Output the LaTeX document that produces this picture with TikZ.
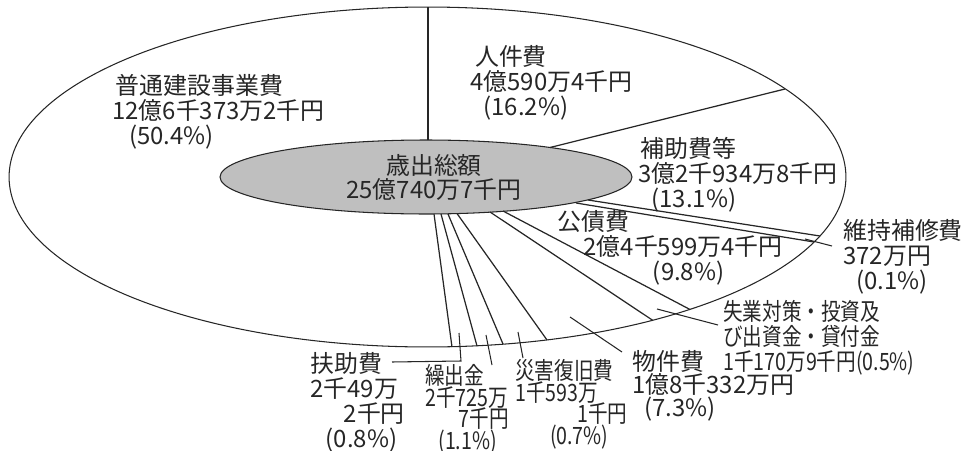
\documentclass[tikz,border=0pt]{standalone}
\usepackage{fontspec}
\setmainfont{Noto Sans CJK JP}
\newfontfamily\jpnarrow[FakeStretch=0.82]{Noto Sans CJK JP}
\newcommand\tightlines{\lineskiplimit=-20pt\relax}
\tikzstyle{lbl} = [inner sep=0pt, anchor=north west, align=left, text=black!85, font=\fontsize{13.6}{14.2}\selectfont\tightlines]
\tikzstyle{lblnarrow} = [inner sep=0pt, anchor=north west, align=left, text=black!85, font=\jpnarrow\fontsize{13.6}{12.3}\selectfont\tightlines]
\tikzstyle{seg} = [line width=0.7pt, draw=black!85]
\tikzstyle{leader} = [line width=0.6pt, draw=black!85]

\begin{document}
\begin{tikzpicture}[x=0.02cm, y=-0.02cm]
\useasboundingbox (0,0) rectangle (964,450);

% Ellipses
\draw [line width=0.6pt, draw=black!85] (427.5,177) ellipse [x radius=8.37cm, y radius=3.4cm];
\draw [line width=0.6pt, draw=black!85, fill=black!25] (426,177) ellipse [x radius=4.12cm, y radius=0.74cm];

% Slice borders
\draw [seg] (428,140) -- (428,7);
\draw [seg] (550,147.5) -- (785,89);
\draw [seg] (588,200) -- (820,236);
\draw [seg] (576,203) -- (814,242);
\draw [seg] (503,211) -- (690,309.5);
\draw [seg] (490,212) -- (653,320.5);
\draw [seg] (457,213.5) -- (547,340);
\draw [seg] (448,214) -- (503,344);
\draw [seg] (441,214) -- (477,346);
\draw [seg] (434,214) -- (452,347);

\node (total) [align=center, inner sep=0pt, text=black!85, font=\fontsize{13.6}{13.7}\selectfont\tightlines] at (434,177) {歳出総額\\25億740万7千円};

\node (gen) [lbl] at (112,74) {\hspace*{0.15em}普通建設事業費\\12億6千373万2千円\\\hspace*{0.7em}(50.4\%)};
\node (jinken) [lbl] at (470,45) {\hspace*{0.2em}人件費\\4億590万4千円\\\hspace*{0.55em}(16.2\%)};
\node (hojo) [lbl] at (638,137) {\hspace*{0.1em}補助費等\\3億2千934万8千円\\\hspace*{0.55em}(13.1\%)};
\node (kosai) [lbl] at (557,210) {公債費\\\hspace*{1.1em}2億4千599万4千円\\\hspace*{4em}(9.8\%)};
\node (iji) [lbl] at (843,219) {維持補修費\\372万円\\\hspace*{0.55em}(0.1\%)};
\node (shitsu) [lblnarrow, font=\jpnarrow\fontsize{13.6}{14.2}\selectfont\tightlines] at (723,300) {失業対策・投資及\\び出資金・貸付金\\1千170万9千円(0.5\%)};
\node (butsu) [lbl, font=\fontsize{13.6}{13.1}\selectfont\tightlines] at (632,350) {物件費\\1億8千332万円\\\hspace*{0.5em}(7.3\%)};
\node (saigai) [lblnarrow] at (515,359) {災害復旧費\\1千593万\\\hspace*{2.6em}1千円\\\hspace*{1.45em}(0.7\%)};
\node (kuri) [lblnarrow] at (425,364) {繰出金\\2千725万\\\hspace*{1.4em}7千円\\\hspace*{0.55em}(1.1\%)};
\node (fujo) [lbl] at (310,352) {扶助費\\2千49万\\\hspace*{1.4em}2千円\\\hspace*{0.65em}(0.8\%)};

% Leaders
\coordinate (ijiA) at (805,239);
\coordinate (ijiB) at (832,246);
\coordinate (shitsuA) at (657,309);
\coordinate (shitsuB) at (718,325);
\coordinate (butsuA) at (570,317);
\coordinate (butsuB) at (622,352);
\coordinate (saigaiA) at (518,332);
\coordinate (saigaiB) at (523,358);
\coordinate (kuriA) at (486,335);
\coordinate (kuriB) at (492,365);
\coordinate (fujoA) at (459,333);
\coordinate (fujoB) at (461,361);
\coordinate (fujoC) at (392,362);
\draw [leader] (ijiA) -- (ijiB);
\draw [leader] (shitsuA) -- (shitsuB);
\draw [leader] (butsuA) -- (butsuB);
\draw [leader] (saigaiA) -- (saigaiB);
\draw [leader] (kuriA) -- (kuriB);
\draw [leader] (fujoA) -- (fujoB) -- (fujoC);

\end{tikzpicture}
\end{document}
